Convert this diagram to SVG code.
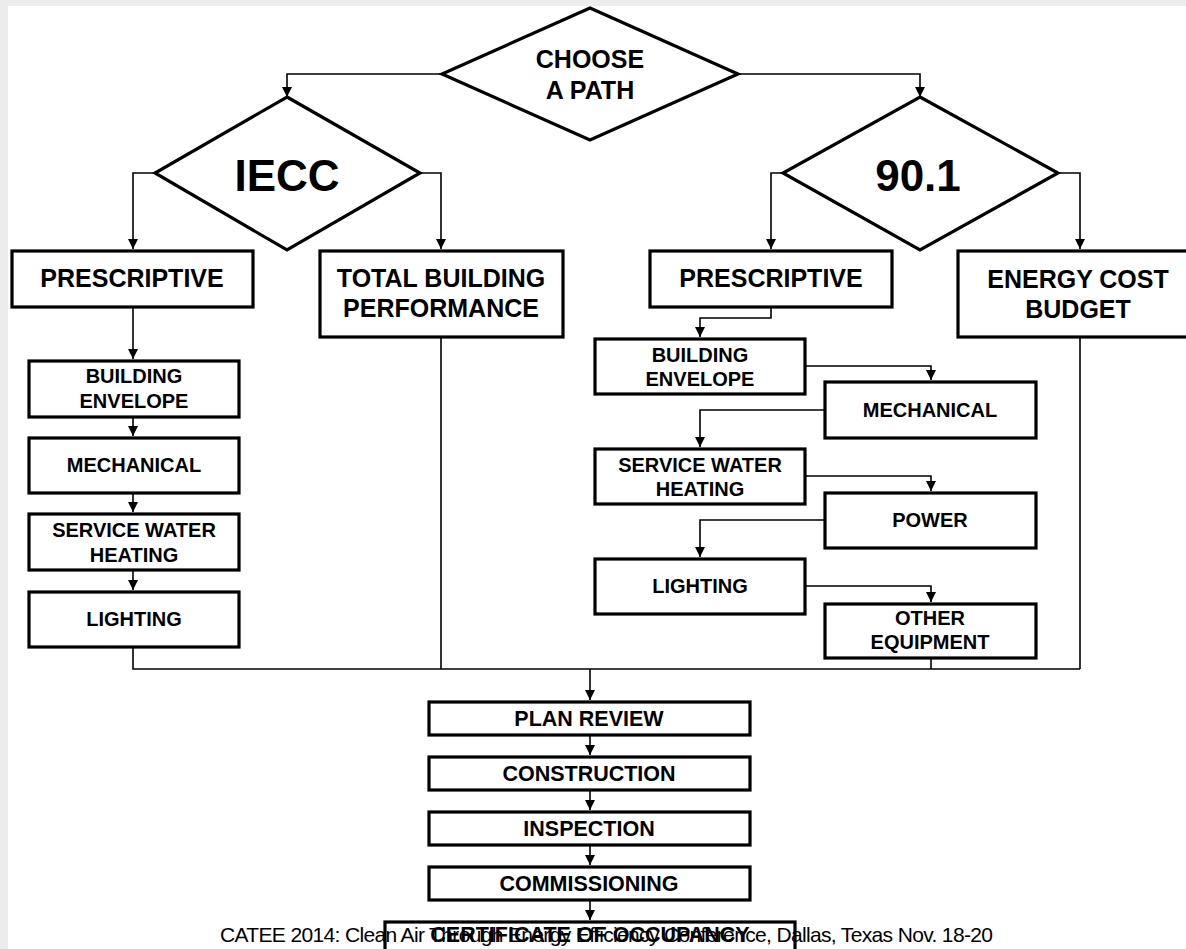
<svg xmlns="http://www.w3.org/2000/svg" width="1186" height="949" viewBox="0 0 1186 949">
<style>
.bx{fill:#fff;stroke:#000;stroke-width:3.2}
.dm{fill:#fff;stroke:#000;stroke-width:3.2;stroke-linejoin:miter}
.cn{fill:none;stroke:#000;stroke-width:1.6}
.t{font-family:"Liberation Sans",Arial,sans-serif;font-weight:bold;fill:#000;text-anchor:middle}
.big{font-size:25px}
.sm{font-size:20px}
.md{font-size:21.5px}
.hd{font-size:44px}
.ft{font-family:"Liberation Sans",Arial,sans-serif;font-size:21px;fill:#000}
</style>
<defs>
<marker id="ah" viewBox="0 0 10 10" refX="10" refY="5" markerWidth="10" markerHeight="11" markerUnits="userSpaceOnUse" orient="auto">
<path d="M0,0 L10,5 L0,10 z" fill="#000"/>
</marker>
</defs>
<rect x="0" y="0" width="1186" height="949" fill="#ececec"/>
<rect x="8" y="6" width="1178" height="943" fill="#fff"/>

<g id="connectors">
<path class="cn" d="M442,74 H287 V97" marker-end="url(#ah)"/>
<path class="cn" d="M738,74 H920 V97" marker-end="url(#ah)"/>
<path class="cn" d="M155,173 H133 V249" marker-end="url(#ah)"/>
<path class="cn" d="M420,173 H441 V249" marker-end="url(#ah)"/>
<path class="cn" d="M783,173 H771 V249" marker-end="url(#ah)"/>
<path class="cn" d="M1058,173 H1080 V249" marker-end="url(#ah)"/>
<path class="cn" d="M133,307 V359" marker-end="url(#ah)"/>
<path class="cn" d="M133,417 V436" marker-end="url(#ah)"/>
<path class="cn" d="M133,493 V512" marker-end="url(#ah)"/>
<path class="cn" d="M133,570 V590" marker-end="url(#ah)"/>
<path class="cn" d="M133,647 V669 H1080"/>
<path class="cn" d="M441,338 V669"/>
<path class="cn" d="M1080,338 V669"/>
<path class="cn" d="M931,658 V669"/>
<path class="cn" d="M590,669 V700" marker-end="url(#ah)"/>
<path class="cn" d="M771,307 V318 H700 V337" marker-end="url(#ah)"/>
<path class="cn" d="M805,366 H931 V380" marker-end="url(#ah)"/>
<path class="cn" d="M825,410 H700 V447" marker-end="url(#ah)"/>
<path class="cn" d="M805,476 H931 V491" marker-end="url(#ah)"/>
<path class="cn" d="M825,520 H700 V557" marker-end="url(#ah)"/>
<path class="cn" d="M805,586 H931 V602" marker-end="url(#ah)"/>
<path class="cn" d="M590,735 V755" marker-end="url(#ah)"/>
<path class="cn" d="M590,790 V810" marker-end="url(#ah)"/>
<path class="cn" d="M590,845 V865" marker-end="url(#ah)"/>
<path class="cn" d="M590,900 V920" marker-end="url(#ah)"/>
</g>

<g id="choose">
<polygon class="dm" points="590,8 738,74 590,140 442,74"/>
<text class="t big" x="590" y="68">CHOOSE</text>
<text class="t big" x="590" y="99">A PATH</text>
</g>
<g id="iecc">
<polygon class="dm" points="287,97 420,173 287,250 155,173"/>
<text class="t hd" x="287" y="191">IECC</text>
</g>
<g id="ashrae">
<polygon class="dm" points="920,97 1058,173 920,250 783,173"/>
<text class="t hd" x="918" y="191">90.1</text>
</g>

<g id="iecc-prescriptive">
<rect class="bx" x="12" y="251" width="241" height="56"/>
<text class="t big" x="132" y="287">PRESCRIPTIVE</text>
</g>
<g id="total-building">
<rect class="bx" x="320" y="251" width="243" height="86"/>
<text class="t big" x="441" y="287">TOTAL BUILDING</text>
<text class="t big" x="441" y="317">PERFORMANCE</text>
</g>
<g id="ashrae-prescriptive">
<rect class="bx" x="650" y="251" width="242" height="56"/>
<text class="t big" x="771" y="287">PRESCRIPTIVE</text>
</g>
<g id="energy-cost">
<rect class="bx" x="958" y="251" width="242" height="86"/>
<text class="t big" x="1078" y="288">ENERGY COST</text>
<text class="t big" x="1078" y="318">BUDGET</text>
</g>

<g id="l-envelope">
<rect class="bx" x="29" y="361" width="210" height="56"/>
<text class="t sm" x="134" y="383">BUILDING</text>
<text class="t sm" x="134" y="408">ENVELOPE</text>
</g>
<g id="l-mechanical">
<rect class="bx" x="29" y="438" width="210" height="55"/>
<text class="t sm" x="134" y="472">MECHANICAL</text>
</g>
<g id="l-swh">
<rect class="bx" x="29" y="514" width="210" height="56"/>
<text class="t sm" x="134" y="537">SERVICE WATER</text>
<text class="t sm" x="134" y="562">HEATING</text>
</g>
<g id="l-lighting">
<rect class="bx" x="29" y="592" width="210" height="55"/>
<text class="t sm" x="134" y="626">LIGHTING</text>
</g>

<g id="r-envelope">
<rect class="bx" x="595" y="339" width="210" height="55"/>
<text class="t sm" x="700" y="362">BUILDING</text>
<text class="t sm" x="700" y="386">ENVELOPE</text>
</g>
<g id="r-mechanical">
<rect class="bx" x="825" y="382" width="211" height="56"/>
<text class="t sm" x="930" y="417">MECHANICAL</text>
</g>
<g id="r-swh">
<rect class="bx" x="595" y="449" width="210" height="55"/>
<text class="t sm" x="700" y="472">SERVICE WATER</text>
<text class="t sm" x="700" y="496">HEATING</text>
</g>
<g id="r-power">
<rect class="bx" x="825" y="493" width="211" height="55"/>
<text class="t sm" x="930" y="527">POWER</text>
</g>
<g id="r-lighting">
<rect class="bx" x="595" y="559" width="210" height="55"/>
<text class="t sm" x="700" y="593">LIGHTING</text>
</g>
<g id="r-other">
<rect class="bx" x="825" y="604" width="211" height="54"/>
<text class="t sm" x="930" y="625">OTHER</text>
<text class="t sm" x="930" y="649">EQUIPMENT</text>
</g>

<g id="plan-review">
<rect class="bx" x="429" y="702" width="321" height="33"/>
<text class="t md" x="589" y="726">PLAN REVIEW</text>
</g>
<g id="construction">
<rect class="bx" x="429" y="757" width="321" height="33"/>
<text class="t md" x="589" y="781">CONSTRUCTION</text>
</g>
<g id="inspection">
<rect class="bx" x="429" y="812" width="321" height="33"/>
<text class="t md" x="589" y="836">INSPECTION</text>
</g>
<g id="commissioning">
<rect class="bx" x="429" y="867" width="321" height="33"/>
<text class="t md" x="589" y="891">COMMISSIONING</text>
</g>
<g id="certificate">
<rect class="bx" x="385" y="922" width="410" height="40"/>
<text class="t md" x="590" y="942">CERTIFICATE OF OCCUPANCY</text>
</g>

<text class="ft" x="220" y="942" textLength="773" lengthAdjust="spacing">CATEE 2014: Clean Air Through Energy Efficiency Conference, Dallas, Texas Nov. 18-20</text>
</svg>
